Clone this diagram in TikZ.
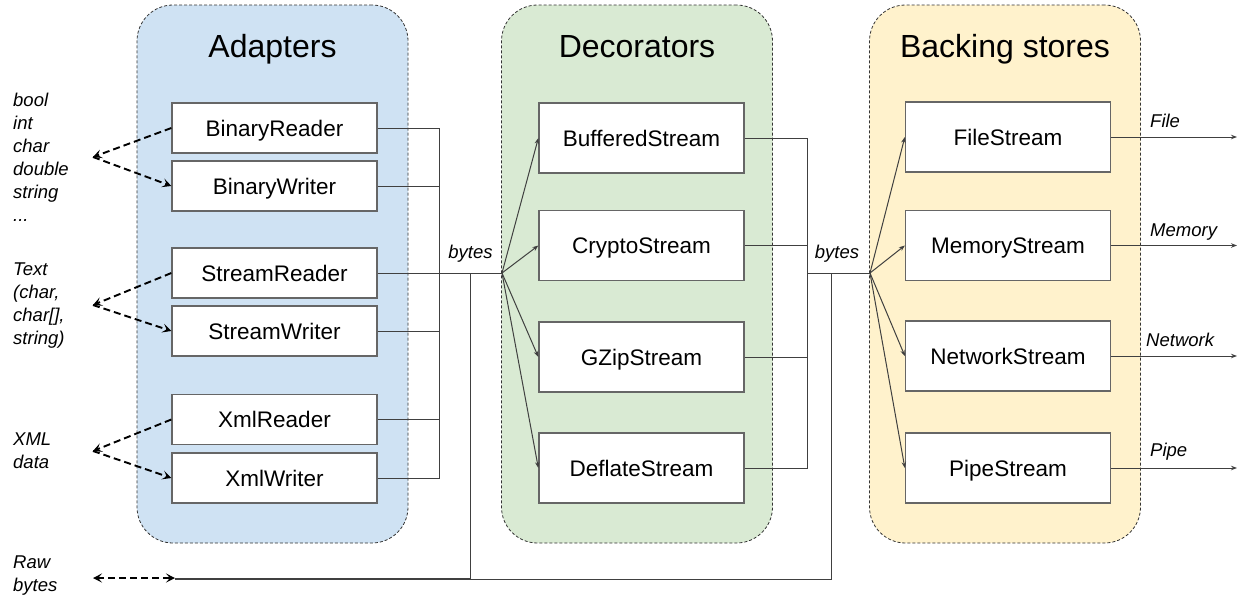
\documentclass[tikz,border=0pt]{standalone}
\usepackage{fontspec}
\setmainfont{Liberation Sans}
\usetikzlibrary{arrows.meta}
\definecolor{adaptblue}{HTML}{CFE2F3}
\definecolor{decogreen}{HTML}{D9EAD3}
\definecolor{storeyellow}{HTML}{FFF2CC}
\tikzset{
        group/.style={draw=black!80, line width=0.8pt, dash pattern=on 3pt off 2pt, rounded corners=36pt, minimum width=271pt, minimum height=538pt},
        box/.style={draw=black!60, line width=1.3pt, fill=white, minimum width=205pt, inner sep=0pt, text height=16.2pt, text depth=0pt, font=\fontsize{22.5}{26}\selectfont},
        title/.style={anchor=base, font=\fontsize{32}{38}\selectfont},
        lbl/.style={anchor=north west, align=left, inner sep=0pt, font=\fontsize{18.5}{23}\selectfont\itshape},
        tag/.style={anchor=base west, inner sep=0pt, font=\fontsize{18.5}{22}\selectfont\itshape},
        wire/.style={draw=black!75, line width=1pt},
        arr/.style={wire, -{Stealth[length=6pt,width=4.5pt]}},
        dasharr/.style={line width=1.9pt, dash pattern=on 7pt off 4pt, -{Stealth[length=9pt,width=9pt,inset=4pt]}},
}

\begin{document}
\begin{tikzpicture}[x=1pt, y=-1pt]
        \useasboundingbox (0,0) rectangle (1242,598);
        % groups
        \node (adapters) [group, fill=adaptblue] at (272.5,274) {};
        \node (decorators) [group, fill=decogreen] at (637,274) {};
        \node (stores) [group, fill=storeyellow] at (1005,274) {};
        \node (tadapters) [title] at (272.5,57) {Adapters};
        \node (tdecorators) [title] at (637,57) {Decorators};
        \node (tstores) [title] at (1005,57) {Backing stores};

        % adapters
        \node (br) [box, minimum height=50pt] at (274.5,128) {BinaryReader};
        \node (bw) [box, minimum height=50pt] at (274.5,186) {BinaryWriter};
        \node (sr) [box, minimum height=50pt] at (274.5,273) {StreamReader};
        \node (sw) [box, minimum height=50pt] at (274.5,331) {StreamWriter};
        \node (xr) [box, minimum height=50pt] at (274.5,419.5) {XmlReader};
        \node (xw) [box, minimum height=50pt] at (274.5,478) {XmlWriter};

        % decorators
        \node (bs) [box, minimum height=70pt] at (641.5,138) {BufferedStream};
        \node (cs) [box, minimum height=70pt] at (641.5,245.5) {CryptoStream};
        \node (gs) [box, minimum height=70pt] at (641.5,357) {GZipStream};
        \node (ds) [box, minimum height=70pt] at (641.5,468) {DeflateStream};

        % backing stores
        \node (fs) [box, minimum height=70pt] at (1008,137) {FileStream};
        \node (ms) [box, minimum height=70pt] at (1008,245.5) {MemoryStream};
        \node (ns) [box, minimum height=70pt] at (1008,356) {NetworkStream};
        \node (ps) [box, minimum height=70pt] at (1008,468) {PipeStream};

        % data on the left
        \node (lprim) [lbl] at (13,93) {bool\\int\\char\\double\\string\\...};
        \node (ltext) [lbl] at (13,263) {Text\\(char,\\char[],\\string)};
        \node (lxml) [lbl] at (13,433) {XML\\data};
        \node (lraw) [lbl] at (13,556) {Raw\\bytes};
        \coordinate (t1) at (93,157);
        \coordinate (t2) at (93,305);
        \coordinate (t3) at (93,451);
        \coordinate (raw) at (93,578);
        \coordinate (rawend) at (175,578);

        \coordinate (b1) at (439,273);
        \coordinate (r1) at (470,273);
        \coordinate (j1) at (502,273);
        \coordinate (b2) at (807,273);
        \coordinate (r2) at (831,273);
        \coordinate (j2) at (870,273);
        \coordinate (out) at (1237,0);

        \node (bytes1) [anchor=base, inner sep=0pt, font=\fontsize{18.5}{22}\selectfont\itshape] at (470.5,258) {bytes};
        \node (bytes2) [anchor=base, inner sep=0pt, font=\fontsize{18.5}{22}\selectfont\itshape] at (837,258) {bytes};
        \node (tfile) [tag] at (1150,127) {File};
        \node (tmemory) [tag] at (1150,236) {Memory};
        \node (tnetwork) [tag] at (1146,346) {Network};
        \node (tpipe) [tag] at (1150,456) {Pipe};

        \draw [dasharr] (br.west) -- (t1);
        \draw [dasharr] (t1) -- (bw.west);
        \draw [dasharr] (sr.west) -- (t2);
        \draw [dasharr] (t2) -- (sw.west);
        \draw [dasharr] (xr.west) -- (t3);
        \draw [dasharr] (t3) -- (xw.west);
        \draw [dasharr, {Stealth[length=9pt,width=9pt,inset=4pt]}-{Stealth[length=9pt,width=9pt,inset=4pt]}] (raw) -- (rawend);

        \draw [wire] (br.east) -| (b1);
        \draw [wire] (bw.east) -| (b1);
        \draw [wire] (sw.east) -| (b1);
        \draw [wire] (xr.east) -| (b1);
        \draw [wire] (xw.east) -| (b1);
        \draw [wire] (sr.east) -- (j1);
        \draw [wire] (rawend) -| (r1);
        \draw [wire] ([yshift=-1.5pt]rawend) -| (r2);

        \draw [arr] (j1) -- (bs.west);
        \draw [arr] (j1) -- (cs.west);
        \draw [arr] (j1) -- (gs.west);
        \draw [arr] (j1) -- (ds.west);

        \draw [wire] (bs.east) -| (b2);
        \draw [wire] (cs.east) -| (b2);
        \draw [wire] (gs.east) -| (b2);
        \draw [wire] (ds.east) -| (b2);
        \draw [wire] (b2) -- (j2);

        \draw [arr] (j2) -- (fs.west);
        \draw [arr] (j2) -- (ms.west);
        \draw [arr] (j2) -- (ns.west);
        \draw [arr] (j2) -- (ps.west);

        \draw [arr] (fs.east) -- (fs.east -| out);
        \draw [arr] (ms.east) -- (ms.east -| out);
        \draw [arr] (ns.east) -- (ns.east -| out);
        \draw [arr] (ps.east) -- (ps.east -| out);
\end{tikzpicture}
\end{document}
